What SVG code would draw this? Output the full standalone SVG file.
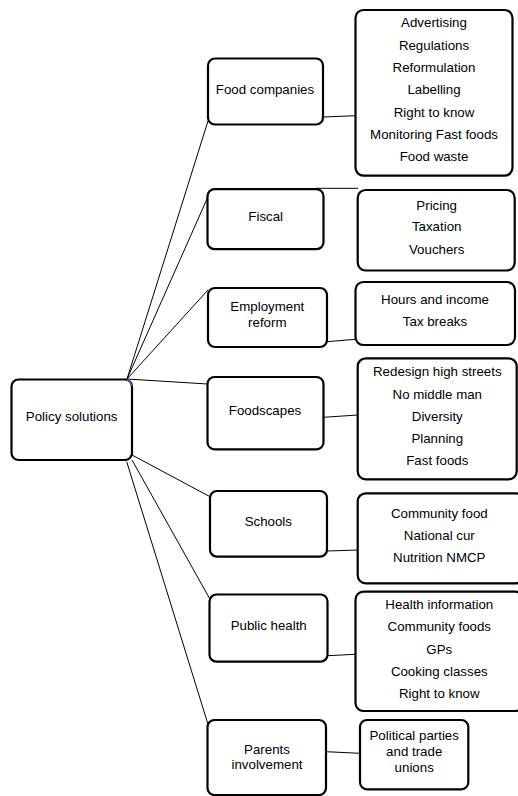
<svg xmlns="http://www.w3.org/2000/svg" width="518" height="796" viewBox="0 0 518 796">
  <style>
    .box { fill: #ffffff; stroke: #000000; stroke-width: 2.2; }
    .link { stroke: #000000; stroke-width: 1; fill: none; }
    text { font-family: "Liberation Sans", Arial, sans-serif; font-size: 13.3px; fill: #000000; text-anchor: middle; }
  </style>
  <rect width="518" height="796" fill="#ffffff"/>

  <!-- connectors -->
  <g id="connectors">
    <line class="link" x1="127" y1="379" x2="208" y2="121"/>
    <line class="link" x1="127" y1="379" x2="208" y2="196.7"/>
    <line class="link" x1="127" y1="379" x2="208" y2="290"/>
    <line class="link" x1="127" y1="379" x2="207.5" y2="384"/>
    <line class="link" x1="132" y1="455" x2="210" y2="496.7"/>
    <line class="link" x1="132" y1="460" x2="209.5" y2="598.3"/>
    <line class="link" x1="126.7" y1="461.7" x2="207.7" y2="723.3"/>
    <line class="link" x1="323" y1="117" x2="355.5" y2="115.7"/>
    <line class="link" x1="316" y1="188.3" x2="358" y2="188.3"/>
    <line class="link" x1="327" y1="341.7" x2="355.5" y2="339.3"/>
    <line class="link" x1="323.5" y1="417.3" x2="357.7" y2="415"/>
    <line class="link" x1="327" y1="551" x2="357.7" y2="550"/>
    <line class="link" x1="327.5" y1="655.7" x2="355.5" y2="654.3"/>
    <line class="link" x1="326" y1="751.7" x2="360" y2="753.3"/>
  </g>

  <!-- root -->
  <g id="policy-solutions">
    <rect class="box" x="11.5" y="379.5" width="120.5" height="80.5" rx="7"/>
    <path d="M127 379.5 Q130.5 381 131.5 386" stroke="#3a6fc4" stroke-width="1.6" fill="none"/>
    <text x="71.7" y="421.4">Policy solutions</text>
  </g>

  <!-- policy areas -->
  <g id="food-companies">
    <rect class="box" x="208" y="58.5" width="115" height="66" rx="7"/>
    <text x="265" y="93.7">Food companies</text>
  </g>
  <g id="fiscal">
    <rect class="box" x="207.5" y="189.2" width="116" height="60" rx="7"/>
    <text x="265.7" y="221.4">Fiscal</text>
  </g>
  <g id="employment-reform">
    <rect class="box" x="208" y="288" width="119" height="59" rx="7"/>
    <text x="267.3" y="311.4">Employment</text>
    <text x="267.3" y="327">reform</text>
  </g>
  <g id="foodscapes">
    <rect class="box" x="207.5" y="377" width="116" height="72.3" rx="7"/>
    <text x="265" y="415.4">Foodscapes</text>
  </g>
  <g id="schools">
    <rect class="box" x="210" y="491" width="117" height="65.7" rx="7"/>
    <text x="268.3" y="526.4">Schools</text>
  </g>
  <g id="public-health">
    <rect class="box" x="209.5" y="594.5" width="118" height="67.2" rx="7"/>
    <text x="268.7" y="629.7">Public health</text>
  </g>
  <g id="parents-involvement">
    <rect class="box" x="207.5" y="720" width="118.5" height="75" rx="7"/>
    <text x="267" y="753.7">Parents</text>
    <text x="267" y="768.7">involvement</text>
  </g>

  <!-- details -->
  <g id="food-companies-detail">
    <rect class="box" x="355.5" y="10" width="157" height="165.7" rx="8"/>
    <text x="434" y="27.4">Advertising</text>
    <text x="434" y="49.7">Regulations</text>
    <text x="434" y="72">Reformulation</text>
    <text x="434" y="94.3">Labelling</text>
    <text x="434" y="116.6">Right to know</text>
    <text x="434" y="138.9">Monitoring Fast foods</text>
    <text x="434" y="161.2">Food waste</text>
  </g>
  <g id="fiscal-detail">
    <rect class="box" x="357.7" y="190" width="157" height="80.5" rx="8"/>
    <text x="436.7" y="209.7">Pricing</text>
    <text x="436.7" y="231.4">Taxation</text>
    <text x="436.7" y="254">Vouchers</text>
  </g>
  <g id="employment-detail">
    <rect class="box" x="355.5" y="282" width="159.5" height="63" rx="8"/>
    <text x="435" y="304">Hours and income</text>
    <text x="435" y="325.7">Tax breaks</text>
  </g>
  <g id="foodscapes-detail">
    <rect class="box" x="357.7" y="358.3" width="159" height="121" rx="8"/>
    <text x="437.3" y="376.4">Redesign high streets</text>
    <text x="437.3" y="398.7">No middle man</text>
    <text x="437.3" y="421.4">Diversity</text>
    <text x="437.3" y="443">Planning</text>
    <text x="437.3" y="465.4">Fast foods</text>
  </g>
  <g id="schools-detail">
    <rect class="box" x="357.7" y="493.3" width="166" height="90" rx="8"/>
    <text x="439.3" y="518">Community food</text>
    <text x="439.3" y="539.7">National cur</text>
    <text x="439.3" y="562.4">Nutrition NMCP</text>
  </g>
  <g id="public-health-detail">
    <rect class="box" x="355.5" y="591.7" width="168" height="119.3" rx="8"/>
    <text x="439.3" y="608.7">Health information</text>
    <text x="439.3" y="631.4">Community foods</text>
    <text x="439.3" y="653.7">GPs</text>
    <text x="439.3" y="675.7">Cooking classes</text>
    <text x="439.3" y="698">Right to know</text>
  </g>
  <g id="parents-detail">
    <rect class="box" x="360" y="720" width="108.3" height="69.3" rx="7"/>
    <text x="414.2" y="740.4">Political parties</text>
    <text x="414.2" y="756.4">and trade</text>
    <text x="414.2" y="772">unions</text>
  </g>
</svg>
